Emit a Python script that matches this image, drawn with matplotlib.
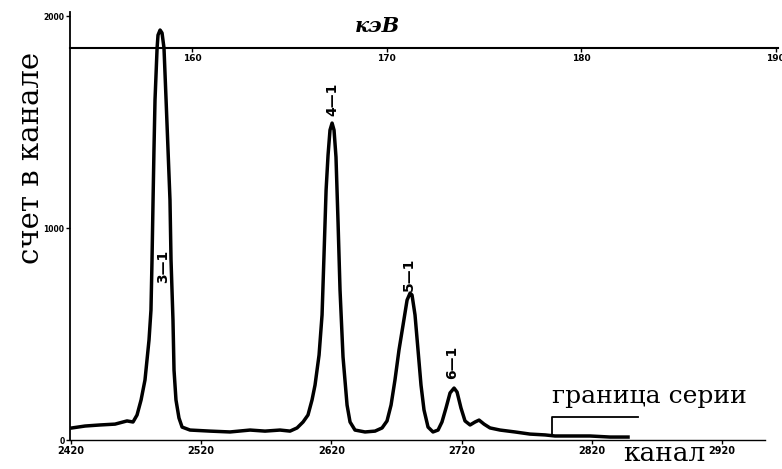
import matplotlib.pyplot as plt

# spectrum: channel number vs counts per channel
channel = [2420.8, 2430.8, 2442.3, 2453.8, 2463.0, 2467.6, 2470.7, 2473.8, 2476.8,
           2479.9, 2481.4, 2482.2, 2483.0, 2483.7, 2484.5, 2486.1, 2486.8, 2488.4,
           2489.9, 2491.4, 2493.0, 2494.5, 2496.0, 2496.8, 2498.3, 2499.1, 2500.6,
           2502.9, 2505.3, 2511.4, 2526.8, 2542.1, 2557.5, 2569.0, 2580.5, 2588.2,
           2593.6, 2598.2, 2602.0, 2605.1, 2607.4, 2610.5, 2612.8, 2614.3, 2615.9,
           2617.4, 2618.9, 2620.5, 2622.0, 2623.5, 2625.1, 2626.6, 2628.9, 2632.0,
           2634.3, 2638.1, 2645.8, 2653.5, 2658.9, 2662.7, 2665.8, 2668.8, 2671.9,
           2675.0, 2678.1, 2680.4, 2681.9, 2684.2, 2686.5, 2688.8, 2691.1, 2694.2,
           2698.0, 2701.9, 2704.9, 2708.0, 2711.1, 2714.2, 2716.5, 2719.5, 2722.6,
           2726.5, 2730.3, 2733.4, 2737.2, 2741.8, 2749.5, 2761.0, 2772.5, 2784.1,
           2791.7, 2803.3, 2818.6, 2834.0, 2847.8]
counts = [57, 66, 71, 75, 90, 85, 118, 189, 283,
          472, 613, 849, 1132, 1368, 1604, 1849, 1910, 1934,
          1920, 1849, 1604, 1368, 1132, 849, 566, 330, 189,
          104, 61, 47, 42, 38, 47, 42, 47, 42,
          57, 85, 118, 189, 259, 401, 590, 873, 1179,
          1344, 1462, 1495, 1462, 1335, 1024, 708, 392, 165,
          85, 47, 38, 42, 57, 90, 165, 283, 425,
          542, 660, 693, 684, 590, 425, 259, 142, 61,
          38, 47, 85, 151, 222, 245, 226, 151, 90,
          71, 85, 94, 75, 57, 47, 38, 28, 24,
          19, 19, 19, 14, 14]

x_ticks = [2420, 2520, 2620, 2720, 2820, 2920]
y_ticks = [0, 1000, 2000]
kev_ticks = [160, 170, 180, 190]

peak_labels = ["3—1", "4—1", "5—1", "6—1"]
peak_label_ch = [2490.7, 2620.5, 2679.6, 2712.6]
peak_label_counts = [821, 1608, 783, 368]

# series limit marker
series_limit_ch = 2789.4
series_bracket_end = 2855.5
series_bracket_top = 108
series_bracket_bottom = 25

# energy calibration of the upper scale
kev_ref = 160
kev_ref_ch = 2512.9
ch_per_kev = 14.94

fig = plt.figure(figsize=(7.82, 4.69), dpi=100)
ax = fig.add_axes([0.0895, 0.0618, 0.9054, 0.9126])

ax.plot(channel, counts, color='black', lw=2.5, solid_joinstyle='round')

ax.set_xlim(2419.2, 2963.0)
ax.set_ylim(0, 2019)

for s in ['top', 'right']:
    ax.spines[s].set_visible(False)
ax.spines['left'].set_linewidth(1.3)
ax.spines['bottom'].set_linewidth(1.0)
ax.spines['bottom'].set_bounds(2419.2, 2953)

ax.set_xticks(x_ticks)
ax.set_xticklabels([str(t) for t in x_ticks], fontsize=7, fontweight='bold')
ax.set_yticks(y_ticks)
ax.set_yticklabels([str(t) for t in y_ticks], fontsize=5.5, fontweight='bold')
ax.tick_params(axis='x', direction='out', length=3, pad=1, width=1)
ax.tick_params(axis='y', direction='out', length=3, pad=1, width=1)

# upper energy scale drawn across the plot
def ch2kev(c):
    return kev_ref + (c - kev_ref_ch) / ch_per_kev


def kev2ch(e):
    return kev_ref_ch + (e - kev_ref) * ch_per_kev


sec = ax.secondary_xaxis(0.9159, functions=(ch2kev, kev2ch))
sec.set_alignment('bottom')
sec.spines['bottom'].set_linewidth(1.5)
sec.set_xticks(kev_ticks)
sec.set_xticklabels([str(t) for t in kev_ticks], fontsize=6.5, fontweight='bold')
sec.tick_params(direction='out', length=3, pad=1, width=1)

for lab, xc, yc in zip(peak_labels, peak_label_ch, peak_label_counts):
    ax.text(xc, yc, lab, rotation=90, ha='center', va='center',
            fontsize=10, fontweight='bold')

ax.plot([series_limit_ch, series_limit_ch, series_bracket_end],
        [series_bracket_bottom, series_bracket_top, series_bracket_top],
        color='black', lw=1.3)
ax.text(series_limit_ch, 203, 'граница серии', ha='left', va='center',
        fontsize=18, family='DejaVu Serif')

fig.text(0.483, 0.945, 'кэВ', ha='center', va='center', fontsize=15,
         family='DejaVu Serif', style='italic', fontweight='bold')
fig.text(0.040, 0.663, 'счет в канале', rotation=90, ha='center', va='center',
         fontsize=21, family='DejaVu Serif')
fig.text(0.85, 0.032, 'канал', ha='center', va='center', fontsize=19,
         family='DejaVu Serif')

fig.savefig('out.png', dpi=100)
